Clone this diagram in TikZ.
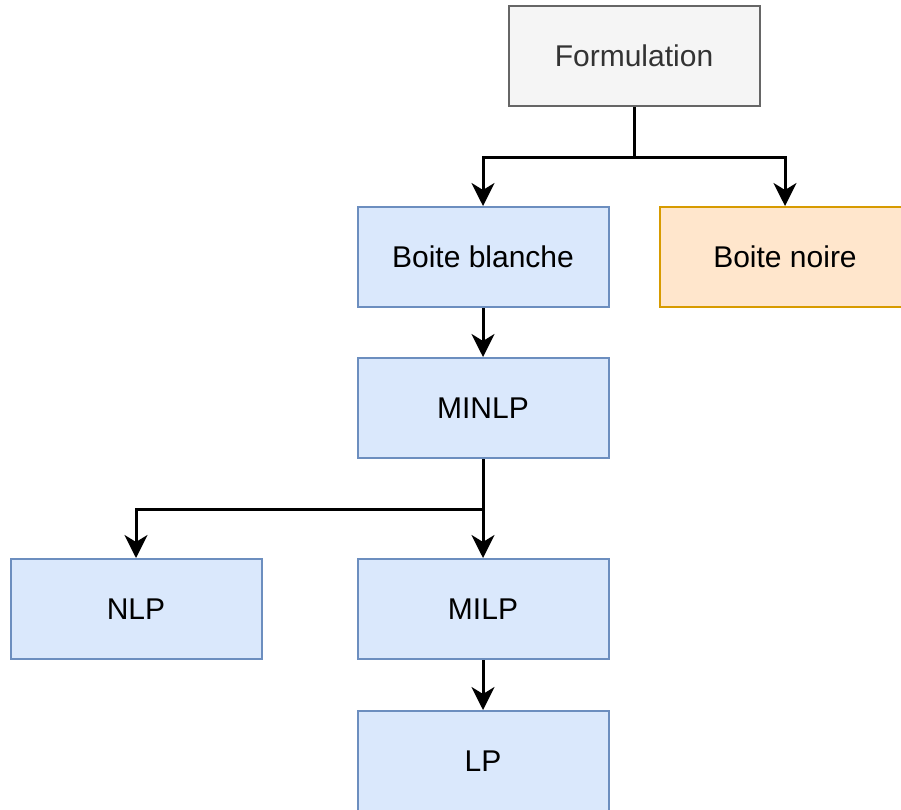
\documentclass[tikz,border=0pt]{standalone}
\usepackage{fontspec}
\setmainfont{Liberation Sans}
\usetikzlibrary{arrows.meta}
\definecolor{greyfill}{HTML}{F5F5F5}
\definecolor{greyline}{HTML}{666666}
\definecolor{greytext}{HTML}{333333}
\definecolor{bluefill}{HTML}{DAE8FC}
\definecolor{blueline}{HTML}{6C8EBF}
\definecolor{orangefill}{HTML}{FFE6CC}
\definecolor{orangeline}{HTML}{D79B00}
\tikzset{
  box/.style={draw, line width=2pt, minimum width=251pt, minimum height=100pt, inner sep=0pt,
    font=\fontsize{30pt}{36pt}\selectfont, anchor=center},
  bluebox/.style={box, fill=bluefill, draw=blueline},
  greybox/.style={box, fill=greyfill, draw=greyline, text=greytext},
  orangebox/.style={box, fill=orangefill, draw=orangeline},
  conn/.style={line width=3pt, -{Stealth[length=23pt, width=23pt, inset=7pt]}}
}
\begin{document}
\begin{tikzpicture}[x=1pt, y=-1pt]
\useasboundingbox (0,0) rectangle (901,809);
\clip (0,0) rectangle (901,809);
\fill[white] (0,0) rectangle (901,809);
\node[greybox] (form) at (634,56) {Formulation};
\node[bluebox] (blanche) at (483,257) {Boite blanche};
\node[orangebox] (noire) at (785,257) {Boite noire};
\node[bluebox] (minlp) at (483,408) {MINLP};
\node[bluebox] (nlp) at (136,609) {NLP};
\node[bluebox] (milp) at (483,609) {MILP};
\node[bluebox] (lp) at (483,761) {LP};
\coordinate (j1) at (634,157);
\coordinate (j2) at (483,509);
\draw[conn] (form.south) -- (j1) -| (blanche.north);
\draw[conn] (j1) -| (noire.north);
\draw[conn] (blanche) -- (minlp);
\draw[conn] (minlp.south) -- (j2) -| (nlp.north);
\draw[conn] (j2) -- (milp.north);
\draw[conn] (milp) -- (lp);
\end{tikzpicture}
\end{document}
